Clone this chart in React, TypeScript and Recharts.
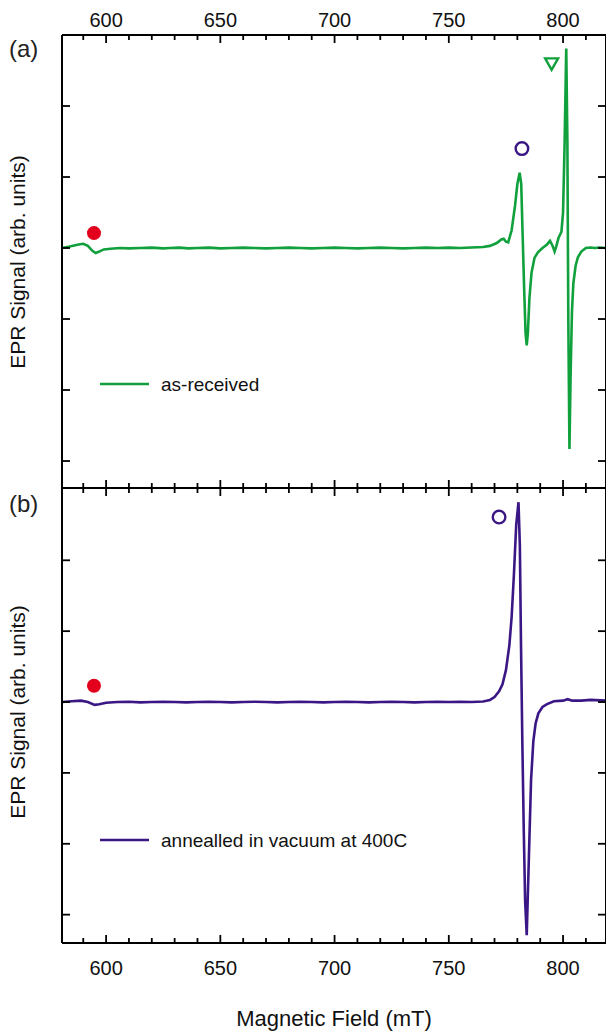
import React from 'react';
import { ComposedChart, Line, Scatter, XAxis, YAxis } from 'recharts';

// ---------- data ----------
const fieldDomain = [580.7, 818.8];
const fieldTicks = [590, 600, 610, 620, 630, 640, 650, 660, 670, 680, 690, 700, 710, 720, 730, 740, 750, 760, 770, 780, 790, 800, 810];
const signalTicks = [-3, -2, -1, 0, 1, 2];
const domainA = [-3.38, 3.0];
const domainB = [-3.4, 3.02];

const fieldA = [
  580.7, 584, 588, 590, 592, 594, 595.5, 597, 599, 602, 606, 610, 615, 620, 625, 628, 632, 636, 640, 645,
  650, 655, 660, 665, 670, 675, 680, 685, 690, 695, 700, 705, 710, 715, 720, 725, 730, 735, 740, 745,
  750, 755, 760, 765, 768, 771, 773, 774, 775, 776, 777.5, 779, 780, 781, 781.7, 782.3, 783, 783.6, 784.1, 784.6,
  785.3, 786.2, 787.5, 789, 791, 793, 794.3, 795.3, 796.3, 797, 798, 799.3, 800, 800.7, 801.4, 801.9, 802.3, 802.8, 803.3, 803.9,
  804.5, 805.5, 806.5, 808, 810, 812, 814, 816, 818.8,
];
const signalA = [
  0.0, 0.02, 0.05, 0.06, 0.03, -0.04, -0.07, -0.05, -0.02, -0.01, 0.0, -0.005, 0.0, 0.005, -0.005, 0.0, 0.005, -0.005, 0.0, 0.005,
  -0.005, 0.0, 0.005, 0.0, -0.005, 0.0, 0.005, 0.0, -0.005, 0.0, 0.005, 0.0, -0.005, 0.0, 0.005, 0.0, -0.005, 0.0, 0.005, 0.0,
  0.005, 0.0, 0.008, 0.015, 0.03, 0.07, 0.12, 0.13, 0.09, 0.08, 0.25, 0.6, 0.9, 1.06, 0.9, 0.2, -0.6, -1.2, -1.37, -1.2,
  -0.7, -0.35, -0.14, -0.06, 0.0, 0.05, 0.1, 0.04, -0.05, 0.02, 0.14, 0.23, 0.5, 1.5, 2.81, 1.5, -1.0, -2.83, -1.8, -0.9,
  -0.5, -0.25, -0.13, -0.05, 0.0, 0.008, 0.0, 0.008, 0.0,
];

const fieldB = [
  580.7, 585, 589, 592, 595, 597, 600, 605, 610, 615, 620, 625, 630, 635, 640, 645, 650, 655, 660, 665,
  670, 675, 680, 685, 690, 695, 700, 705, 710, 715, 720, 725, 730, 735, 740, 745, 750, 755, 760, 765,
  768, 770, 772, 773.5, 775, 776.5, 777.5, 778.5, 779.5, 780.5, 781.1, 781.6, 782.2, 782.8, 783.4, 784.1, 784.7, 785.3, 786, 787,
  788, 789.2, 791, 793, 796, 800, 802, 804, 808, 812, 818.8,
];
const signalB = [
  0.0, 0.01, 0.02, 0.0, -0.04, -0.03, -0.01, 0.0, 0.005, -0.005, 0.0, 0.005, 0.0, -0.005, 0.0, 0.005, 0.0, -0.005, 0.0, 0.005,
  0.0, -0.005, 0.0, 0.005, 0.0, -0.005, 0.0, 0.005, 0.0, -0.005, 0.0, 0.005, 0.0, -0.005, 0.0, 0.005, 0.0, 0.005, 0.0, 0.008,
  0.03, 0.07, 0.15, 0.25, 0.45, 0.8, 1.2, 1.8, 2.5, 2.82, 2.2, 0.8, -0.6, -1.8, -2.8, -3.29, -2.6, -1.9, -1.1, -0.55,
  -0.3, -0.16, -0.07, -0.03, 0.01, 0.02, 0.04, 0.02, 0.02, 0.03, 0.02,
];

const markerFieldA = [594.7, 782.0, 795.0];
const markerValueA = [0.21, 1.4, 2.6];
const markerKindA = ['dot', 'ring', 'tri'];
const markerFieldB = [594.7, 772.0];
const markerValueB = [0.23, 2.61];
const markerKindB = ['dot', 'ring'];

const seriesNameA = 'as-received';
const seriesNameB = 'annealled in vacuum at 400C';
const xTitle = 'Magnetic Field (mT)';
const yTitle = 'EPR Signal (arb. units)';

// ---------- styles ----------
const GREEN = '#10a03c';
const PURPLE = '#3b1785';
const RED = '#e2001c';
const FONT = '"Liberation Sans", Arial, Helvetica, sans-serif';

const dataA = fieldA.map((x, i) => ({ x, y: signalA[i] }));
const dataB = fieldB.map((x, i) => ({ x, y: signalB[i] }));
const marksA = markerFieldA.map((x, i) => ({ x, y: markerValueA[i], kind: markerKindA[i] }));
const marksB = markerFieldB.map((x, i) => ({ x, y: markerValueB[i], kind: markerKindB[i] }));

const XTick = (props: any) => {
  const { x, y, payload, side, showLabel } = props;
  const v = payload.value;
  const major = v % 50 === 0;
  const len = major ? 8 : 5;
  const dir = side === 'top' ? 1 : -1;
  return (
    <g>
      <line x1={x} y1={y} x2={x} y2={y + dir * len} stroke="#000" strokeWidth={1.8} />
      {showLabel && major ? (
        <text
          x={x}
          y={side === 'top' ? y - 8 : y + 32}
          textAnchor="middle"
          fontSize={20}
          fontFamily={FONT}
          fill="#111"
        >
          {v}
        </text>
      ) : null}
    </g>
  );
};

const YTick = (props: any) => {
  const { x, y, side } = props;
  const dir = side === 'left' ? 1 : -1;
  return <line x1={x} y1={y} x2={x + dir * 8} y2={y} stroke="#000" strokeWidth={1.8} />;
};

const Marker = (props: any) => {
  const { cx, cy, payload, color } = props;
  if (payload.kind === 'dot') return <circle cx={cx} cy={cy} r={7} fill={RED} />;
  if (payload.kind === 'ring')
    return <circle cx={cx} cy={cy} r={6.3} fill="none" stroke={PURPLE} strokeWidth={2.4} />;
  return (
    <path
      d={`M${cx - 6.5},${cy - 5} L${cx + 6.5},${cy - 5} L${cx},${cy + 6.5} Z`}
      fill="none"
      stroke={color}
      strokeWidth={2.4}
      strokeLinejoin="miter"
    />
  );
};

const W = 608;
const H = 1033;

function Panel(props: any) {
  const { data, marks, color, domain, top, bottom, showTop, showBottom, name, legendY, tag, tagY, titleY } = props;
  return (
    <div style={{ position: 'absolute', left: 0, top: 0, width: W, height: H }}>
      <ComposedChart width={W} height={H} margin={{ top: top - 1, right: 1, bottom: H - bottom - 1, left: 61 }}>
        <XAxis
          xAxisId="b"
          dataKey="x"
          type="number"
          orientation="bottom"
          domain={fieldDomain}
          ticks={fieldTicks}
          interval={0}
          allowDataOverflow
          height={1}
          tickSize={0}
          tickMargin={0}
          axisLine={{ stroke: '#000', strokeWidth: 2 }}
          tickLine={false}
          tick={(p: any) => <XTick {...p} side="bottom" showLabel={showBottom} />}
        />
        <XAxis
          xAxisId="t"
          dataKey="x"
          type="number"
          orientation="top"
          domain={fieldDomain}
          ticks={fieldTicks}
          interval={0}
          allowDataOverflow
          height={1}
          tickSize={0}
          tickMargin={0}
          axisLine={{ stroke: '#000', strokeWidth: 2 }}
          tickLine={false}
          tick={(p: any) => <XTick {...p} side="top" showLabel={showTop} />}
        />
        <YAxis
          yAxisId="l"
          dataKey="y"
          type="number"
          orientation="left"
          domain={domain}
          ticks={signalTicks}
          interval={0}
          allowDataOverflow
          width={1}
          tickSize={0}
          tickMargin={0}
          axisLine={{ stroke: '#000', strokeWidth: 2 }}
          tickLine={false}
          tick={(p: any) => <YTick {...p} side="left" />}
        />
        <YAxis
          yAxisId="r"
          dataKey="y"
          type="number"
          orientation="right"
          domain={domain}
          ticks={signalTicks}
          interval={0}
          allowDataOverflow
          width={1}
          tickSize={0}
          tickMargin={0}
          axisLine={{ stroke: '#000', strokeWidth: 2 }}
          tickLine={false}
          tick={(p: any) => <YTick {...p} side="right" />}
        />
        <Line
          xAxisId="b"
          yAxisId="l"
          data={data}
          dataKey="y"
          type="linear"
          stroke={color}
          strokeWidth={2.6}
          dot={false}
          activeDot={false}
          isAnimationActive={false}
        />
        <Scatter
          xAxisId="t"
          yAxisId="r"
          data={marks}
          dataKey="y"
          shape={(p: any) => <Marker {...p} color={color} />}
          isAnimationActive={false}
        />
        <line x1={100} y1={legendY} x2={149} y2={legendY} stroke={color} strokeWidth={2.6} />
        <text x={161} y={legendY + 7} fontSize={19} fontFamily={FONT} fill="#111">
          {name}
        </text>
        <text x={9} y={tagY} fontSize={24} fontFamily={FONT} fill="#222">
          {tag}
        </text>
        <text
          x={0}
          y={0}
          transform={`translate(25, ${titleY}) rotate(-90)`}
          textAnchor="middle"
          fontSize={21}
          fontFamily={FONT}
          fill="#111"
        >
          {yTitle}
        </text>
        {showBottom ? (
          <text x={334} y={1026} textAnchor="middle" fontSize={22} fontFamily={FONT} fill="#111">
            {xTitle}
          </text>
        ) : null}
      </ComposedChart>
    </div>
  );
}

export default function App() {
  return (
    <div
      style={{
        position: 'absolute',
        left: 0,
        top: 0,
        width: 606,
        height: 1033,
        overflow: 'hidden',
        background: '#fff',
      }}
    >
      <Panel
        data={dataA}
        marks={marksA}
        color={GREEN}
        domain={domainA}
        top={35}
        bottom={488}
        showTop
        showBottom={false}
        name={seriesNameA}
        legendY={384}
        tag="(a)"
        tagY={57}
        titleY={262}
      />
      <Panel
        data={dataB}
        marks={marksB}
        color={PURPLE}
        domain={domainB}
        top={488}
        bottom={943}
        showTop={false}
        showBottom
        name={seriesNameB}
        legendY={840}
        tag="(b)"
        tagY={512}
        titleY={712}
      />
    </div>
  );
}
